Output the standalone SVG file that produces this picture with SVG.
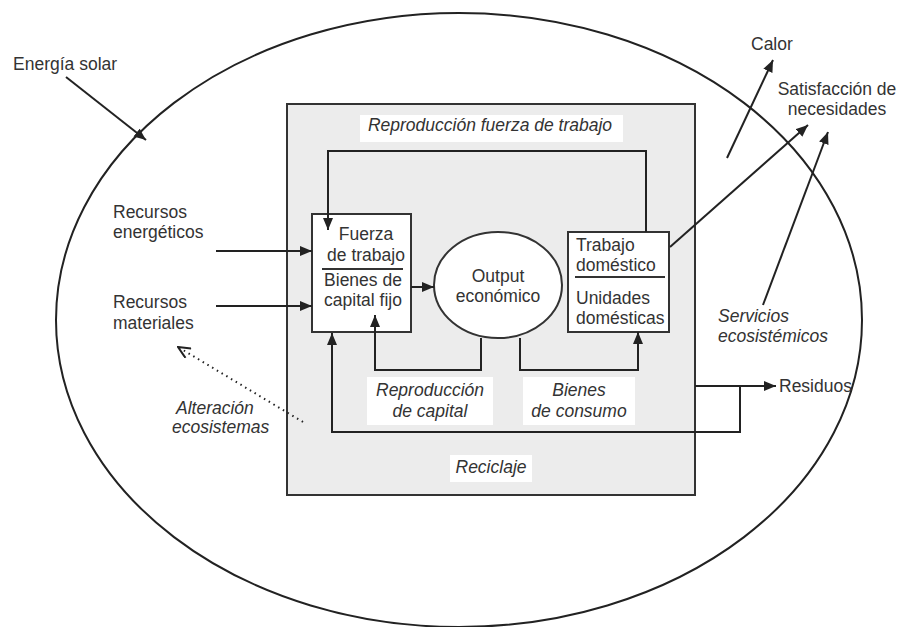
<svg xmlns="http://www.w3.org/2000/svg" width="898" height="627" viewBox="0 0 898 627">
<defs>
<marker id="ah" viewBox="0 0 12 10" refX="12" refY="5" markerWidth="12" markerHeight="10" markerUnits="userSpaceOnUse" orient="auto">
<path d="M0,0 L12,5 L0,10 Z" fill="#222"/>
</marker>
<marker id="oh" viewBox="0 0 14 12" refX="13" refY="6" markerWidth="14" markerHeight="12" markerUnits="userSpaceOnUse" orient="auto">
<path d="M1,0.5 L13,6 L1,11.5" fill="none" stroke="#222" stroke-width="2"/>
</marker>
<style>
.t{font-family:"Liberation Sans",Arial,sans-serif;font-size:17.5px;fill:#333}
.i{font-style:italic}
.m{text-anchor:middle}
.ln{fill:none;stroke:#222;stroke-width:2}
.box{fill:#fff;stroke:#333;stroke-width:2}
.lbl{fill:#fff}
</style>
</defs>
<rect width="898" height="627" fill="#fff"/>
<g id="ecosystem">
<ellipse cx="459" cy="320" rx="403" ry="307" fill="none" stroke="#222" stroke-width="2"/>
</g>
<g id="economy">
<rect x="287" y="104" width="408" height="391" fill="#ececec" stroke="#333" stroke-width="2"/>
<rect class="lbl" x="360" y="115" width="263" height="27"/>
<text class="t i m" x="490" y="131">Reproducción fuerza de trabajo</text>
<rect class="lbl" x="367" y="377" width="126" height="48"/>
<text class="t i m" x="430" y="396">Reproducción</text>
<text class="t i m" x="430" y="417">de capital</text>
<rect class="lbl" x="523" y="377" width="112" height="48"/>
<text class="t i m" x="579" y="396">Bienes</text>
<text class="t i m" x="579" y="417">de consumo</text>
<rect class="lbl" x="450" y="455" width="82" height="27"/>
<text class="t i m" x="491" y="473">Reciclaje</text>
</g>
<g id="fuerza">
<rect class="box" x="312" y="214" width="99" height="118"/>
<line x1="322" y1="269" x2="403" y2="269" stroke="#333" stroke-width="2"/>
<text class="t m" x="366" y="240">Fuerza</text>
<text class="t m" x="366" y="261">de trabajo</text>
<text class="t m" x="363" y="286">Bienes de</text>
<text class="t m" x="363" y="306">capital fijo</text>
</g>
<g id="output">
<ellipse cx="498" cy="285" rx="64" ry="53" fill="#fff" stroke="#333" stroke-width="2"/>
<text class="t m" x="498" y="282">Output</text>
<text class="t m" x="498" y="302">económico</text>
</g>
<g id="trabajo">
<rect class="box" x="568" y="232" width="101" height="100"/>
<line x1="575" y1="277" x2="665" y2="277" stroke="#333" stroke-width="2"/>
<text class="t" x="576" y="251">Trabajo</text>
<text class="t" x="576" y="271">doméstico</text>
<text class="t" x="576" y="304">Unidades</text>
<text class="t" x="576" y="324">domésticas</text>
</g>
<g id="labels">
<text class="t" x="13" y="70">Energía solar</text>
<text class="t" x="113" y="218">Recursos</text>
<text class="t" x="113" y="238">energéticos</text>
<text class="t" x="113" y="308">Recursos</text>
<text class="t" x="113" y="329">materiales</text>
<text class="t i" x="176" y="414">Alteración</text>
<text class="t i" x="172" y="433">ecosistemas</text>
<text class="t" x="751" y="50">Calor</text>
<text class="t m" x="837" y="95">Satisfacción de</text>
<text class="t m" x="837" y="115">necesidades</text>
<text class="t i" x="718" y="322">Servicios</text>
<text class="t i" x="718" y="342">ecosistémicos</text>
<text class="t" x="779" y="392">Residuos</text>
</g>
<g id="connectors">
<line class="ln" x1="66" y1="77" x2="146" y2="140" marker-end="url(#ah)"/>
<line class="ln" x1="216" y1="251" x2="312" y2="251" marker-end="url(#ah)"/>
<line class="ln" x1="216" y1="306" x2="312" y2="306" marker-end="url(#ah)"/>
<line x1="303" y1="422" x2="178" y2="347" fill="none" stroke="#222" stroke-width="2" stroke-dasharray="1.5,4" marker-end="url(#oh)"/>
<polyline class="ln" points="646,232 646,151 328,151 328,230" marker-end="url(#ah)"/>
<line class="ln" x1="411" y1="287" x2="434" y2="287" marker-end="url(#ah)"/>
<polyline class="ln" points="481,338 481,370 375,370 375,315" marker-end="url(#ah)"/>
<polyline class="ln" points="520,338 520,370 638,370 638,332" marker-end="url(#ah)"/>
<polyline class="ln" points="695,386 740,386 740,432 332,432 332,333" marker-end="url(#ah)"/>
<line class="ln" x1="740" y1="386" x2="776" y2="386" marker-end="url(#ah)"/>
<line class="ln" x1="727" y1="158" x2="773" y2="60" marker-end="url(#ah)"/>
<line class="ln" x1="670" y1="247" x2="808" y2="125" marker-end="url(#ah)"/>
<line class="ln" x1="763" y1="305" x2="828" y2="132" marker-end="url(#ah)"/>
</g>
</svg>
